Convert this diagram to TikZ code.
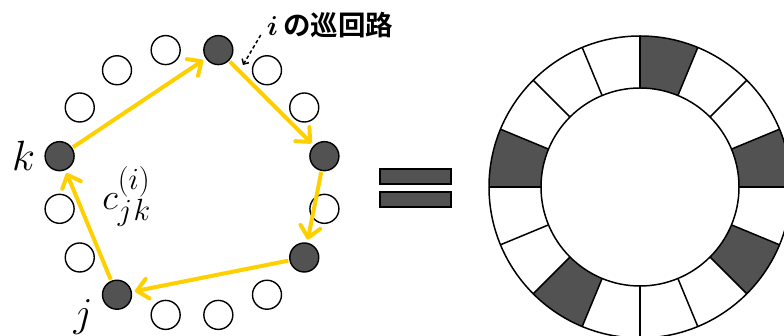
\documentclass[tikz,border=0pt]{standalone}
\usepackage{fontspec}
\newfontfamily\jpfont{Noto Sans CJK JP}[BoldFont={Noto Sans CJK JP Bold}]
\usetikzlibrary{arrows.meta,positioning}
\definecolor{tourYellow}{RGB}{255,208,0}
\definecolor{dotGray}{RGB}{82,82,82}
\tikzset{
  openDot/.style={circle, draw=black, line width=1.4pt, fill=white,
    minimum size=29pt, inner sep=0pt},
  fullDot/.style={openDot, fill=dotGray},
  tourArrow/.style={tourYellow, line width=4pt,
    -{Straight Barb[length=11pt,width=20pt,round]},
    shorten <=1pt, shorten >=3pt},
  ringLine/.style={black, line width=1.5pt},
  eqBar/.style={draw=black, line width=1.4pt, fill=dotGray,
    minimum width=71pt, minimum height=15pt, inner sep=0pt},
  bigMath/.style={inner sep=0pt, font=\Huge, scale=#1}
}

\begin{document}
\begin{tikzpicture}[x=1pt, y=1pt]
    \useasboundingbox (0,0) rectangle (784,336);
    \clip (0,0) rectangle (784,336);
    % --- dots of the tour ---
    \begin{scope}[shift={(192,153.5)}]
      \foreach \i/\kind in {0/fullDot, 1/openDot, 2/openDot, 3/fullDot,
          4/openDot, 5/openDot, 6/openDot, 7/fullDot, 8/openDot, 9/openDot,
          10/fullDot, 11/openDot, 12/openDot, 13/openDot, 14/fullDot, 15/openDot}
        \node[\kind] (c\i) at (11.25+22.5*\i:135) {};
    \end{scope}
    % --- tour ---
    \draw[tourArrow] (c3) -- (c0);
    \draw[tourArrow] (c0) -- (c14);
    \draw[tourArrow] (c14) -- (c10);
    \draw[tourArrow] (c10) -- (c7);
    \draw[tourArrow] (c7) -- (c3);
    % --- labels ---
    \node[bigMath=1.7, left=9pt of c7] (labK) {$k$};
    \node[bigMath=1.65, anchor=base] (labJ) at (83,9) {$j$};
    \node[bigMath=1.48, anchor=base west] (labC) at (102,126) {$c_{j\mkern1mu k}^{(i)}$};
    \node[inner sep=0pt, font=\fontsize{27.5}{30}\selectfont] (tourLabel) at (330,311)
      {\scalebox{1.1}{\Huge\boldmath$i$}\hspace{5pt}\jpfont\bfseries の巡回路};
    \coordinate (tourTip) at (243,271);
    \draw[black, line width=1.5pt, dash pattern=on 3.5pt off 2.5pt,
      -{Straight Barb[length=4pt,width=8pt]}]
      ([xshift=-6pt,yshift=-10pt]tourLabel.west) -- (tourTip);
    % --- equals sign ---
    \node[eqBar] (eqTop) at (415.5,159.5) {};
    \node[eqBar] (eqBottom) at (415.5,136.5) {};
    % --- ring of slots ---
    \begin{scope}[shift={(640,149)}]
      \foreach \i in {0,3,7,10,14}
        \fill[dotGray] (22.5*\i:99) arc[start angle=22.5*\i, end angle=22.5*\i+22.5, radius=99pt]
          -- (22.5*\i+22.5:151) arc[start angle=22.5*\i+22.5, end angle=22.5*\i, radius=151pt] -- cycle;
      \foreach \i in {0,...,15}
        \draw[ringLine] (22.5*\i:99) -- (22.5*\i:151);
      \draw[ringLine] (0,0) circle (99pt) (0,0) circle (151pt);
    \end{scope}
\end{tikzpicture}
\end{document}
